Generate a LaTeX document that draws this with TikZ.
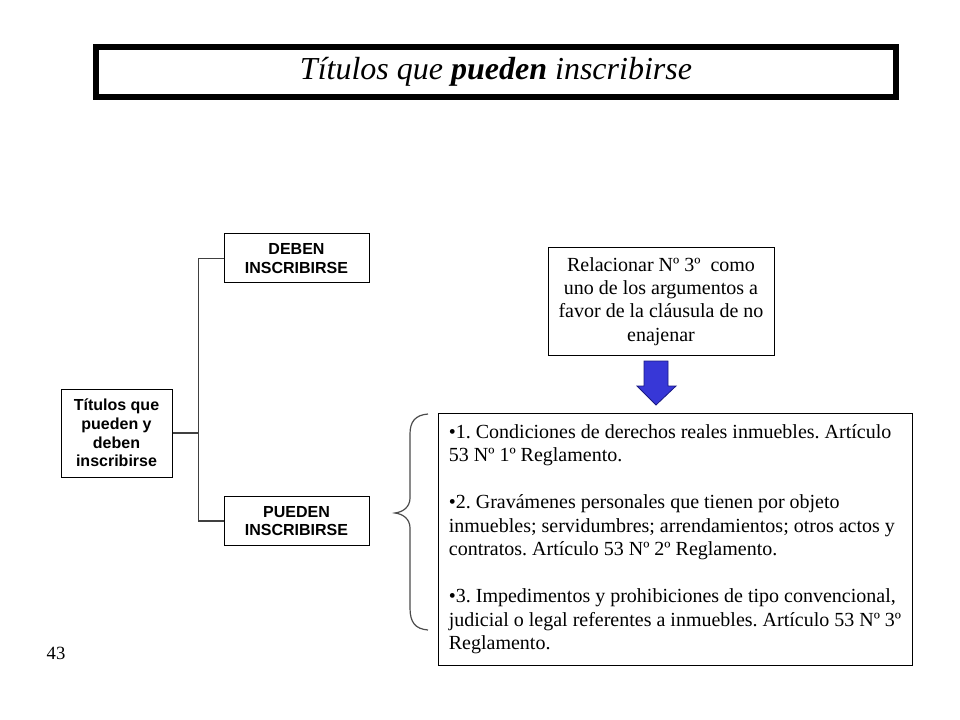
\documentclass[tikz,border=0pt]{standalone}
\usepackage{fontspec}
\setmainfont{Liberation Serif}
\setsansfont{Liberation Sans}
\usetikzlibrary{positioning}
\definecolor{azul}{RGB}{55,55,215}
\definecolor{azulborde}{RGB}{25,25,130}
\frenchspacing

\begin{document}
\begin{tikzpicture}[
  x=0.75pt, y=-0.75pt,
  caja/.style={draw, line width=0.75pt, align=center, inner sep=0pt, font=\sffamily\bfseries\fontsize{12}{14}\selectfont},
  texto/.style={draw, line width=0.75pt, inner sep=0pt, font=\fontsize{15}{17.5}\selectfont},
  rama/.style={draw=black!75, line width=1.1pt},
  llave/.style={draw=black!70, line width=0.9pt}
]
\useasboundingbox (0,0) rectangle (960,720);

\node[draw, line width=4.8pt, minimum width=600pt, minimum height=37.5pt,
  font=\itshape\fontsize{24}{28}\selectfont] (titulo) at (496,72) {Títulos que \textbf{pueden} inscribirse};

\node[caja, minimum width=83.25pt, minimum height=66pt] (raiz) at (116.5,433) {Títulos que\\pueden y\\deben\\inscribirse};
\node[caja, minimum width=108.75pt, minimum height=36.75pt] (deben) at (296.5,258.5) {DEBEN\\INSCRIBIRSE};
\node[caja, minimum width=108.75pt, minimum height=36.75pt] (pueden) at (296.5,521) {PUEDEN\\INSCRIBIRSE};

\draw[rama] (raiz.east) -- ++(26,0) coordinate (nudo) |- (deben.west);
\draw[rama] (nudo) |- (pueden.west);

\node[texto, align=center, minimum width=169.5pt, minimum height=80.25pt] (relacion) at (661,301.5)
  {Relacionar Nº 3º~ como\\uno de los argumentos a\\favor de la cláusula de no\\enajenar};

% flecha azul
\filldraw[fill=azul, draw=azulborde, line width=0.6pt]
  (644,361) -- (668,361) -- (668,386) -- (676,386) -- (656,405) -- (637,386) -- (644,386) -- cycle;

\node[texto, align=left, minimum width=355.5pt, minimum height=189pt] (lista) at (675,539)
  {•1. Condiciones de derechos reales inmuebles. Artículo\\53 Nº 1º Reglamento.\\[18pt]
   •2. Gravámenes personales que tienen por objeto\\inmuebles; servidumbres; arrendamientos; otros actos y\\contratos. Artículo 53 Nº 2º Reglamento.\\[18pt]
   •3. Impedimentos y prohibiciones de tipo convencional,\\judicial o legal referentes a inmuebles. Artículo 53 Nº 3º\\Reglamento.};

% llave
\draw[llave] (428,414) .. controls (415,415) and (410,422) .. (410,434) -- (410,498)
  .. controls (410,507) and (403,512) .. (395,513) .. controls (403,514) and (410,519) .. (410,528)
  -- (410,608) .. controls (410,622) and (415,629) .. (428,630);

\node[font=\fontsize{14}{16}\selectfont] (pagina) at (56,653) {43};

\end{tikzpicture}
\end{document}
